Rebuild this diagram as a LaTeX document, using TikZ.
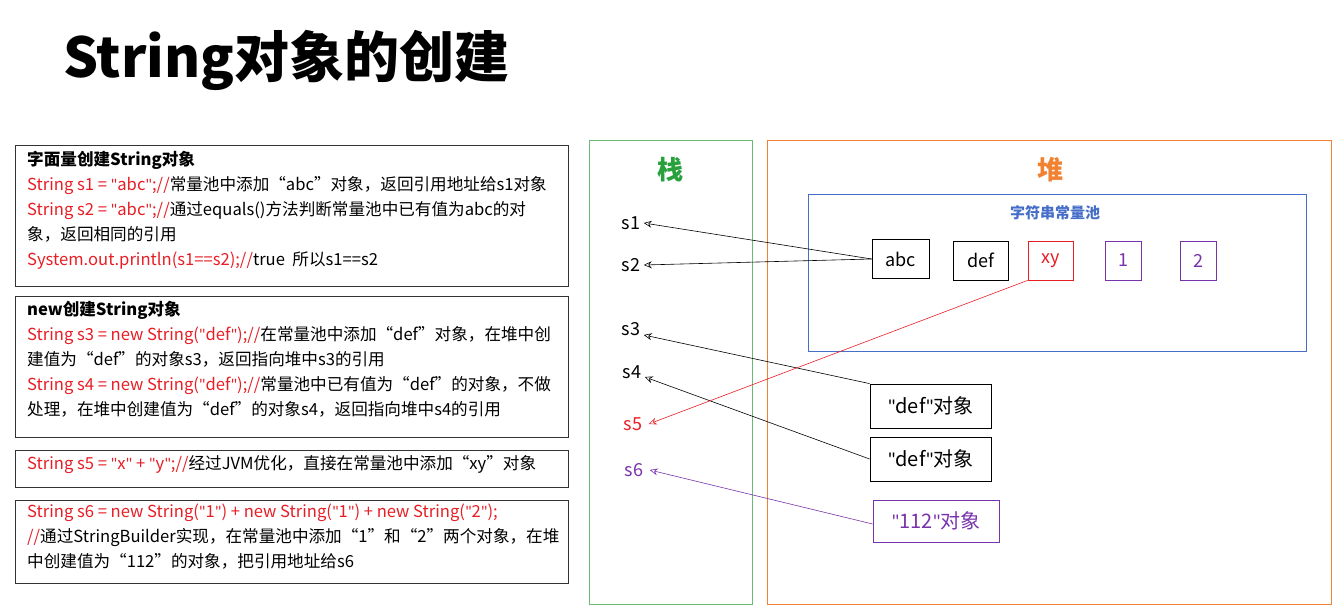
\documentclass[tikz,border=0pt]{standalone}
\usepackage{fontspec}
\setmainfont{Noto Sans CJK SC}
\newfontfamily\carl{Carlito}
\newcommand\dq{{\carl\char34}}
\usetikzlibrary{arrows.meta}
\definecolor{cred}{RGB}{232,30,36}
\definecolor{cgreen}{RGB}{40,160,60}
\definecolor{corange}{RGB}{240,130,50}
\definecolor{cblue}{RGB}{70,110,200}
\definecolor{cpurple}{RGB}{120,50,170}
\begin{document}
\begin{tikzpicture}[x=1pt,y=-1pt,
  txtbox/.style={draw=black!80,line width=1pt},
  para/.style={anchor=north west,align=left,inner sep=0pt,font=\fontsize{16.6}{25}\selectfont},
  cell/.style={draw,line width=0.8pt,minimum height=39pt,font=\fontsize{18}{20}\selectfont,inner sep=0pt},
  obj/.style={draw,line width=0.8pt,minimum width=121pt,minimum height=44pt,font=\fontsize{20}{22}\selectfont},
  var/.style={font=\fontsize{18}{20}\selectfont},
  ptr/.style={-{Stealth[open,length=8pt,width=7pt]},line width=0.6pt}]
\useasboundingbox (0,0) rectangle (1341,612);
\node[anchor=west,inner sep=0pt,font=\fontsize{55}{60}\bfseries] (title) at (63,60) {String对象的创建};
% left boxes
\draw[txtbox] (15,146) rectangle (568,287);
\draw[txtbox] (15,297) rectangle (568,437);
\draw[txtbox] (15,450) rectangle (568,487);
\draw[txtbox] (15,500) rectangle (568,583);
\node[para] (t1) at (27,151) {\textbf{字面量创建String对象}\\
\textcolor{cred}{String s1 = \dq abc\dq;//}常量池中添加“abc”对象，返回引用地址给s1对象\\
\textcolor{cred}{String s2 = \dq abc\dq;//}通过equals()方法判断常量池中已有值为abc的对\\
象，返回相同的引用\\
\textcolor{cred}{System.out.println(s1==s2);//}true\ \ 所以s1==s2};
\node[para] (t2) at (27,301) {\textbf{new创建String对象}\\
\textcolor{cred}{String s3 = new String(\dq def\dq);//}在常量池中添加“def”对象，在堆中创\\
建值为“def”的对象s3，返回指向堆中s3的引用\\
\textcolor{cred}{String s4 = new String(\dq def\dq);//}常量池中已有值为“def”的对象，不做\\
处理，在堆中创建值为“def”的对象s4，返回指向堆中s4的引用};
\node[para] (t3) at (27,455) {\textcolor{cred}{String s5 = \dq x\dq\ + \dq y\dq;//}经过JVM优化，直接在常量池中添加“xy”对象};
\node[para] (t4) at (27,504) {\textcolor{cred}{String s6 = new String(\dq 1\dq) + new String(\dq 1\dq) + new String(\dq 2\dq);}\\
\textcolor{cred}{//}通过StringBuilder实现，在常量池中添加“1”和“2”两个对象，在堆\\
中创建值为“112”的对象，把引用地址给s6};
% stack & heap
\draw[cgreen!70,line width=1pt] (589,141) rectangle (752,604);
\node[text=cgreen,font=\fontsize{26}{28}\bfseries] (zhan) at (670,170) {栈};
\draw[corange,line width=1pt] (767,141) rectangle (1331,604);
\node[text=corange,font=\fontsize{26}{28}\bfseries] (dui) at (1050,170) {堆};
\draw[cblue,line width=1pt] (808,195) rectangle (1306,351);
\node[text=cblue,font=\fontsize{15}{17}\bfseries] (pool) at (1055,213) {字符串常量池};
\node[cell,minimum width=57pt] (abc) at (900.5,259) {abc};
\node[cell,minimum width=55pt] (def) at (980.5,260.5) {def};
\node[cell,minimum width=45pt,draw=cred,text=cred] (xy) at (1050.5,260.5) {xy};
\node[cell,minimum width=36pt,draw=cpurple,text=cpurple] (one) at (1123,260.5) {1};
\node[cell,minimum width=36pt,draw=cpurple,text=cpurple] (two) at (1198,260.5) {2};
\node[var] (s1) at (631,223) {s1};
\node[var] (s2) at (631,265) {s2};
\node[var] (s3) at (631,329) {s3};
\node[var] (s4) at (632,372) {s4};
\node[var,text=cred] (s5) at (633,424) {s5};
\node[var,text=cpurple] (s6) at (634,470) {s6};
\node[obj] (o1) at (930.5,406) {\dq def\dq 对象};
\node[obj] (o2) at (930.5,459) {\dq def\dq 对象};
\node[obj,draw=cpurple,text=cpurple,minimum width=126pt,minimum height=42pt] (o3) at (936,521) {\dq 112\dq 对象};
\draw[ptr] (abc.west) -- (s1.east);
\draw[ptr] (abc.west) -- (s2.east);
\draw[ptr] (o1.north west) -- ([yshift=-6pt]s3.east);
\draw[ptr] (o2.west) -- ([yshift=-5pt]s4.east);
\draw[ptr,cred] (xy.south west) -- ([xshift=3pt]s5.east);
\draw[ptr,cpurple] ([yshift=-3pt]o3.west) -- ([xshift=3pt]s6.east);
\end{tikzpicture}
\end{document}
